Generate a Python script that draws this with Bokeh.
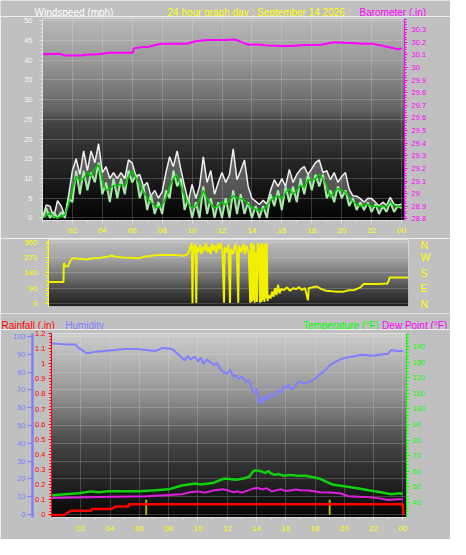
import numpy as np
from bokeh.plotting import figure
from bokeh.models import Range1d, LinearAxis, FixedTicker, Label, Grid
from bokeh.layouts import column
from bokeh.embed import file_html
from bokeh.resources import INLINE

FONT = "Liberation Sans"
BG = "#c0c0c0"

# ---------------- data ----------------
x_ticks = [2, 4, 6, 8, 10, 12, 14, 16, 18, 20, 22, 24]
x_tick_labels = ["02", "04", "06", "08", "10", "12", "14", "16", "18", "20", "22", "00"]

# wind (mph), quarter-hour readings
wind_hours = [0, 0.25, 0.5, 0.75, 1, 1.25, 1.5, 1.75,
              2, 2.25, 2.5, 2.75, 3, 3.25, 3.5, 3.75,
              4, 4.25, 4.5, 4.75, 5, 5.25, 5.5, 5.75,
              6, 6.25, 6.5, 6.75, 7, 7.25, 7.5, 7.75,
              8, 8.25, 8.5, 8.75, 9, 9.25, 9.5, 9.75,
              10, 10.25, 10.5, 10.75, 11, 11.25, 11.5, 11.75,
              12, 12.25, 12.5, 12.75, 13, 13.25, 13.5, 13.75,
              14, 14.25, 14.5, 14.75, 15, 15.25, 15.5, 15.75,
              16, 16.25, 16.5, 16.75, 17, 17.25, 17.5, 17.75,
              18, 18.25, 18.5, 18.75, 19, 19.25, 19.5, 19.75,
              20, 20.25, 20.5, 20.75, 21, 21.25, 21.5, 21.75,
              22, 22.25, 22.5, 22.75, 23, 23.25, 23.5, 23.75,
              24]
wind_gust = [0, 3.3, 3.0, 0, 4.4, 3.0, 0.5, 5.8,
             12, 15, 11, 17, 12, 17, 14, 18.8,
             11.5, 13, 10, 11.5, 10, 11.5, 10, 14.7,
             13.9, 10.5, 11, 8, 9, 5.6, 7, 5,
             6.6, 11.5, 15.5, 13, 17, 12.3, 8, 4.1,
             8.5, 5, 8, 15.5, 9, 12, 6, 9,
             11.5, 9, 11, 17.5, 9.7, 12, 14.7, 8,
             5, 4.2, 3.4, 4.5, 3.5, 7, 9.7, 8,
             10, 8, 12.3, 9, 11, 12.3, 13, 11,
             12.5, 14, 14.7, 11.5, 12, 9.7, 11.5, 9,
             10.5, 11.5, 7.3, 5.6, 5.5, 4.9, 4, 5,
             4.9, 4, 3, 4, 3.2, 5.2, 3.5, 3.2,
             3.5]
wind_speed = [0, 2.5, 0, 1.5, 0, 1.5, 0, 5,
              4, 12, 6, 12, 7, 11.5, 9, 14,
              6, 9, 4, 10, 5, 10, 6, 12,
              9, 11, 5, 8, 2, 6, 1, 4,
              1, 7, 5, 12, 8, 10, 2, 5,
              0, 4, 0, 8, 1, 5, 0, 4,
              0, 5, 0, 7, 1, 6, 1, 4,
              0, 3, 0, 3, 0, 6, 3, 7,
              2, 8, 4, 8, 4, 10, 6, 11,
              7, 11, 8, 11, 5, 7, 4, 8,
              5, 7, 3, 5, 2, 4, 2, 4,
              1.5, 3.5, 1, 3, 1.5, 4, 1.5, 3,
              2.5]
wind_avg = [0, 0.5, 1.3, 0.3, 0, 0.3, 0.8, 3.5,
            7.4, 10.6, 9.5, 10, 11.5, 10.6, 12.5, 13.5,
            9.7, 7.0, 7.5, 8.2, 8.2, 8.5, 8, 10.5,
            12, 10, 8.5, 6.6, 5, 4, 3, 2.6,
            3.3, 5, 8, 10, 11, 8, 5.5, 3.5,
            2.6, 3, 4.5, 7, 5, 3.5, 2.6, 3,
            4.1, 3.3, 4.5, 5.6, 5, 4.9, 4.5, 3.5,
            2.6, 2.2, 1.9, 2.2, 3, 4.5, 5.2, 5.6,
            4.8, 6.5, 7.3, 6, 7, 8.2, 7.8, 9.7,
            9.5, 10, 11, 10, 8.2, 5.2, 6.6, 7.4,
            7, 6.5, 5.2, 4.1, 3.5, 2.9, 3.2, 3.5,
            3, 2.9, 2.9, 2.9, 2.9, 4.1, 3.2, 2.9,
            2.9]
wind_ticks = [0, 5, 10, 15, 20, 25, 30, 35, 40, 45, 50]

# barometer (in)
baro_hours = [0, 1.1, 1.55, 2.6, 2.85, 3.7, 4.5, 6.05, 6.1, 6.7, 7.1, 7.6, 8.0,
              9.5, 9.7, 10.2, 11.0, 12.3, 12.75, 13.1, 13.4, 13.8, 14.4, 15.0,
              16.0, 16.6, 17.6, 18.6, 19.5, 20.2, 21.5, 22.1, 22.8, 23.4, 23.75, 24.0]
baro_values = [30.105, 30.108, 30.095, 30.095, 30.1, 30.105, 30.117, 30.117, 30.15,
               30.163, 30.163, 30.18, 30.187, 30.187, 30.19, 30.208, 30.217, 30.217,
               30.222, 30.213, 30.195, 30.18, 30.182, 30.175, 30.17, 30.17, 30.177,
               30.18, 30.2, 30.195, 30.187, 30.187, 30.17, 30.155, 30.145, 30.15]
baro_ticks = [28.8, 28.9, 29.0, 29.1, 29.2, 29.3, 29.4, 29.5, 29.6, 29.7, 29.8,
              29.9, 30.0, 30.1, 30.2, 30.3]
baro_tick_labels = ["28.8", "28.9", "29", "29.1", "29.2", "29.3", "29.4", "29.5",
                    "29.6", "29.7", "29.8", "29.9", "30", "30.1", "30.2", "30.3"]

# wind direction (degrees)
dir_hours = [0, 1.0, 1.02, 1.1, 1.3, 1.45, 1.6, 2.0, 2.5, 3.0, 3.5, 4.0, 4.2, 4.6,
             5.0, 5.5, 6.0, 6.5, 7.0, 7.5, 8.0, 8.5, 9.0, 9.3,
             9.45, 9.55, 9.6, 9.65, 9.75, 9.8, 9.85, 9.9, 10.0, 10.1,
             10.2, 10.3, 10.4, 10.5, 10.6, 10.7, 10.8, 10.9, 11.0, 11.1,
             11.2, 11.3, 11.4, 11.5, 11.6, 11.7, 11.75, 11.85, 12.0, 12.1,
             12.15, 12.3, 12.45, 12.55, 12.65, 12.7, 12.85, 13.0, 13.1, 13.2,
             13.35, 13.45, 13.5, 13.55, 13.6, 13.65, 13.7, 13.75, 13.8, 13.9,
             13.95, 14.05, 14.1, 14.15, 14.2, 14.25, 14.3, 14.35, 14.4, 14.45,
             14.5, 14.55, 14.6, 14.65, 14.8, 14.9, 15.0, 15.1, 15.2, 15.3,
             15.4, 15.5, 15.7, 15.9, 16.1, 16.3, 16.5, 16.7, 16.9, 17.1,
             17.3, 17.35, 17.6, 17.9, 18.2, 18.5, 18.9, 19.3, 19.7, 20.0,
             20.4, 20.8, 21.0, 21.5, 22.0, 22.6, 22.75, 24.0]
dir_values = [127, 127, 238, 218, 218, 250, 266, 262, 258, 265, 268, 275, 281, 272,
              270, 268, 266, 276, 282, 286, 284, 285, 280, 290,
              330, 355, 2, 340, 300, 350, 3, 330, 300, 345,
              290, 330, 310, 355, 300, 330, 290, 350, 310, 340,
              295, 350, 320, 355, 300, 5, 330, 300, 345, 3,
              320, 290, 350, 310, 5, 340, 300, 350, 290, 340,
              300, 5, 355, 10, 350, 20, 345, 5, 300, 10,
              355, 310, 5, 350, 10, 355, 20, 340, 10, 350,
              30, 355, 15, 50, 30, 70, 40, 90, 50, 110,
              60, 85, 80, 95, 75, 90, 85, 95, 80, 90,
              20, 90, 95, 100, 85, 75, 72, 70, 70, 78,
              80, 95, 114, 114, 114, 118, 152, 152]
dir_ticks = [0, 90, 180, 270, 360]
dir_compass = ["N", "E", "S", "W", "N"]

# rainfall (in), cumulative
rain_hours = [0, 0.86, 1.3, 2.73, 2.75, 4.05, 4.37, 5.26, 5.28, 24.0, 24.05]
rain_values = [0, 0, 0.028, 0.028, 0.039, 0.039, 0.055, 0.055, 0.07, 0.07, 0]
rain_mark_hours = [6.47, 19.0]
rain_mark_values = [0.1, 0.1]
rain_ticks = [0, 0.1, 0.2, 0.3, 0.4, 0.5, 0.6, 0.7, 0.8, 0.9, 1.0, 1.1, 1.2]
rain_tick_labels = ["0", "0.1", "0.2", "0.3", "0.4", "0.5", "0.6", "0.7", "0.8",
                    "0.9", "1", "1.1", "1.2"]

# humidity (%)
hum_hours = [0, 1.0, 1.65, 1.85, 2.4, 3.0, 3.6, 5.0, 5.8, 7.1,
             7.6, 8.25, 8.9, 9.1, 9.3, 9.5, 9.8, 10.0, 10.2, 10.4,
             10.6, 10.9, 11.1, 11.3, 11.5, 11.75, 12.0, 12.2, 12.4, 12.6,
             12.8, 13.0, 13.3, 13.5, 13.7, 13.9, 14.0, 14.1, 14.25, 14.4,
             14.5, 14.65, 14.8, 15.0, 15.25, 15.45, 15.65, 15.85, 16.0, 16.2,
             16.4, 16.6, 16.8, 17.0, 17.3, 17.6, 17.9, 18.1, 18.35, 18.7,
             19.0, 19.35, 19.7, 20.1, 20.5, 21.2, 22.0, 22.5, 23.0, 23.2,
             23.6, 24.0]
hum_values = [96, 95.5, 95.5, 93.5, 90.5, 91.3, 91.8, 92.9, 92.9, 91.8,
              93.5, 92.9, 88, 86.5, 89, 87, 88.6, 86, 88, 84.5,
              87, 85.3, 84, 85, 82, 80, 79, 81.5, 77.5, 78,
              76, 77.5, 74.5, 75.5, 70, 68, 71, 64.5, 62, 66,
              63, 67, 64.5, 68, 66, 70, 68, 72, 71, 73,
              70.1, 71.5, 74, 74.5, 73.5, 74.5, 75.5, 77, 78.8, 81,
              83.7, 85.5, 87, 88, 88.6, 89.7, 89.1, 89.8, 90.2, 92.4,
              91.8, 91.8]
hum_ticks = [0, 10, 20, 30, 40, 50, 60, 70, 80, 90, 100]

# temperature and dew point (F)
temp_hours = [0, 1.85, 2.7, 3.2, 3.8, 6.0, 7.1, 8.0, 8.9, 9.8,
              10.2, 11.1, 11.75, 12.0, 12.6, 13.2, 13.5, 13.8, 14.0, 14.25,
              14.6, 14.8, 15.0, 15.25, 15.5, 15.9, 16.3, 16.8, 17.4, 18.35,
              19.2, 20.1, 21.0, 21.65, 22.5, 23.2, 23.8, 24.0]
temp_values = [44.5, 45.8, 47.0, 46.4, 47.0, 47.0, 47.7, 48.3, 50.8, 52.0,
               51.4, 52.6, 55.1, 55.1, 54.5, 55.5, 56.4, 60.1, 60.5, 60.1,
               58.9, 60.1, 58.5, 57.6, 58.2, 57.0, 57.6, 57.0, 57.0, 55.1,
               51.4, 50.1, 48.9, 47.7, 46.4, 45.2, 45.8, 45.2]
dew_hours = [0, 3.2, 6.5, 8.9, 9.5, 10.0, 10.5, 11.0, 11.75, 12.0,
             12.4, 12.7, 13.0, 13.4, 13.8, 14.1, 14.4, 14.7, 15.05, 15.4,
             15.7, 16.0, 16.4, 16.7, 17.0, 17.6, 18.35, 19.0, 19.7, 20.3,
             21.0, 21.65, 22.4, 23.0, 23.6, 24.0]
dew_values = [42.7, 43.3, 43.9, 45.2, 46.5, 47.0, 46.2, 47.5, 48.3, 47.7,
              46.5, 47.0, 46.2, 47.5, 48.9, 49.2, 48.3, 49.0, 47.0, 47.8,
              48.3, 47.2, 47.7, 48.2, 47.7, 47.5, 46.4, 46.2, 45.8, 43.9,
              43.6, 43.3, 42.5, 41.4, 42.0, 42.0]
temp_ticks = [40, 50, 60, 70, 80, 90, 100, 110, 120, 130, 140]

# title rows
top_titles = ["Windspeed (mph)", "24 hour graph day : September 14 2026", "Barometer (.in)"]
top_title_colors = ["#ffffff", "#ffff00", "#ff00ff"]
bottom_titles = ["Rainfall (.in)", "Humidity", "Temperature (°F)", "Dew Point (°F)"]
bottom_title_colors = ["#ff0000", "#8080ff", "#00ff00", "#ff00ff"]


# ---------------- helpers ----------------
def grey_gradient(stops_t, stops_v, n=240):
    t = np.linspace(1.0, 0.0, n)  # row 0 = bottom of frame
    v = np.interp(t, stops_t, stops_v).astype(np.uint8)
    img = np.zeros((n, 1), dtype=np.uint32)
    view = img.view(dtype=np.uint8).reshape((n, 1, 4))
    view[:, 0, 0] = v
    view[:, 0, 1] = v
    view[:, 0, 2] = v
    view[:, 0, 3] = 255
    return img


def add_background(p, stops_t, stops_v):
    xr, yr = p.x_range, p.y_range
    p.image_rgba(image=[grey_gradient(stops_t, stops_v)], x=xr.start, y=yr.start,
                 dw=xr.end - xr.start, dh=yr.end - yr.start, level="image")


def make_fig(height, x_range, y_range, left, right, top, bottom, **kw):
    return figure(width=450, height=height, x_range=x_range, y_range=y_range,
                  output_backend="svg", toolbar_location=None, frame_align=False,
                  min_border_left=left, min_border_right=right,
                  min_border_top=top, min_border_bottom=bottom,
                  border_fill_color=BG, background_fill_color="#000000",
                  outline_line_color="#e6e6e6", outline_line_width=1, **kw)


def title_row(height, texts, colors, xs, baseline):
    t = figure(width=450, height=height, x_range=Range1d(0, 450), y_range=Range1d(height, 0),
               output_backend="svg", toolbar_location=None, frame_align=False,
               min_border=0, min_border_left=0, min_border_right=0,
               min_border_top=0, min_border_bottom=0,
               x_axis_location=None, y_axis_location=None,
               background_fill_color=BG, border_fill_color=BG, outline_line_color=None)
    t.grid.visible = False
    for text, color, x in zip(texts, colors, xs):
        t.add_layout(Label(x=x, y=baseline, text=text, text_color=color, text_font=FONT,
                           text_font_size="10px", text_baseline="alphabetic"))
    return t


def style_axis(ax, color, size="7.5px", line_color=None, tick_out=3, minor_out=2,
               standoff=3, line_width=1):
    lc = line_color or color
    ax.major_label_text_color = color
    ax.major_label_text_font = FONT
    ax.major_label_text_font_size = size
    ax.axis_line_color = lc
    ax.axis_line_width = line_width
    ax.major_tick_line_color = lc
    ax.minor_tick_line_color = lc
    ax.major_tick_in = 0
    ax.major_tick_out = tick_out
    ax.minor_tick_in = 0
    ax.minor_tick_out = minor_out
    ax.major_label_standoff = standoff


def style_grid(g):
    g.grid_line_color = "#f2f2f2"
    g.grid_line_alpha = 0.4
    g.grid_line_dash = "1 1"


hour_minor = list(range(0, 25))

# ---------------- title row 1 ----------------
t1 = title_row(16, top_titles, top_title_colors, [34, 167, 359], 11.5)

# ---------------- top: wind + barometer ----------------
p1 = make_fig(222, Range1d(0, 24.2), Range1d(-0.65, 50.55), 42, 46, 2, 18)
p1.extra_y_ranges = {"baro": Range1d(28.787, 30.388)}
add_background(p1, [0, 0.2, 0.45, 0.52, 0.7, 0.9, 1.0], [185, 155, 100, 68, 40, 15, 4])

p1.xaxis.ticker = FixedTicker(ticks=x_ticks, minor_ticks=hour_minor)
p1.xaxis.major_label_overrides = dict(zip(x_ticks, x_tick_labels))
style_axis(p1.xaxis[0], "#ffff00", size="8px", line_color="#e0e0e0", standoff=4)
p1.yaxis.ticker = FixedTicker(ticks=wind_ticks, minor_ticks=list(range(0, 51)))
style_axis(p1.yaxis[0], "#f4f4f4", line_color="#e0e0e0", standoff=7)
baro_axis = LinearAxis(y_range_name="baro",
                       ticker=FixedTicker(ticks=baro_ticks,
                                          minor_ticks=[28.8 + 0.02 * i for i in range(80)]),
                       major_label_overrides=dict(zip(baro_ticks, baro_tick_labels)))
style_axis(baro_axis, "#ff00ff", standoff=4)
p1.add_layout(baro_axis, "right")
style_grid(p1.xgrid[0])
style_grid(p1.ygrid[0])

p1.varea(x=wind_hours, y1=wind_avg, y2=wind_gust, fill_color="#e8e8e8", fill_alpha=0.3)
p1.line(wind_hours, wind_gust, line_color="#f0f0f0", line_width=1.5)
p1.varea(x=wind_hours, y1=wind_speed, y2=wind_avg, fill_color="#b0f0b0", fill_alpha=0.3)
p1.line(wind_hours, wind_speed, line_color="#a8e8a8", line_width=2)
p1.line(wind_hours, wind_avg, line_color="#00c800", line_width=1.5)
p1.line(baro_hours, baro_values, line_color="#ff00ff", line_width=2, y_range_name="baro")

# ---------------- middle: wind direction ----------------
p2 = make_fig(75, Range1d(0, 24), Range1d(-17, 375), 48, 42, 1, 7, x_axis_location=None)
p2.xgrid.visible = False
add_background(p2, [0, 0.3, 0.55, 0.78, 1.0], [192, 160, 115, 65, 30])
p2.yaxis.ticker = FixedTicker(ticks=dir_ticks, minor_ticks=list(range(0, 361, 15)))
style_axis(p2.yaxis[0], "#ffff00", size="8px", standoff=8)
compass = LinearAxis(ticker=FixedTicker(ticks=dir_ticks, minor_ticks=[]),
                     major_label_overrides=dict(zip(dir_ticks, dir_compass)))
style_axis(compass, "#ffff00", size="10.5px", tick_out=0, minor_out=0, standoff=12)
compass.axis_line_color = None
compass.major_tick_line_color = None
p2.add_layout(compass, "right")
style_grid(p2.ygrid[0])
p2.line(dir_hours, dir_values, line_color="#f0f000", line_width=2)

# ---------------- title row 2 ----------------
t3 = title_row(16, bottom_titles, bottom_title_colors, [1, 64.7, 302.4, 381.6], 11.5)

# ---------------- bottom: rain / humidity / temperature ----------------
p3 = make_fig(210, Range1d(0, 24.25), Range1d(-0.017, 1.2), 51, 44, 4, 22)
p3.extra_y_ranges = {"hum": Range1d(-1.6, 101.6), "temp": Range1d(30.2, 148.5)}
add_background(p3, [0, 0.16, 0.32, 0.45, 0.53, 0.63, 0.79, 0.92, 1.0],
               [205, 178, 150, 115, 90, 65, 40, 18, 8])

p3.xaxis.ticker = FixedTicker(ticks=x_ticks, minor_ticks=hour_minor)
p3.xaxis.major_label_overrides = dict(zip(x_ticks, x_tick_labels))
style_axis(p3.xaxis[0], "#ffff00", size="8px", line_color="#e0e0e0", standoff=5)
p3.yaxis.ticker = FixedTicker(ticks=rain_ticks, minor_ticks=[0.02 * i for i in range(61)])
p3.yaxis.major_label_overrides = dict(zip(rain_ticks, rain_tick_labels))
style_axis(p3.yaxis[0], "#ff0000", standoff=3)
hum_axis = LinearAxis(y_range_name="hum", ticker=FixedTicker(ticks=hum_ticks, minor_ticks=[]))
style_axis(hum_axis, "#8080ff", tick_out=5, standoff=2, line_width=2.5)
p3.add_layout(hum_axis, "left")
temp_axis = LinearAxis(y_range_name="temp",
                       ticker=FixedTicker(ticks=temp_ticks,
                                          minor_ticks=[30 + 2 * i for i in range(60)]))
style_axis(temp_axis, "#00ff00", standoff=3)
p3.add_layout(temp_axis, "right")
p3.ygrid.visible = False
hum_grid = Grid(dimension=1, ticker=FixedTicker(ticks=hum_ticks), y_range_name="hum")
style_grid(hum_grid)
p3.add_layout(hum_grid)
style_grid(p3.xgrid[0])

p3.line(hum_hours, hum_values, line_color="#8080ff", line_width=2, y_range_name="hum")
p3.line(temp_hours, temp_values, line_color="#10d010", line_width=2.5, y_range_name="temp")
p3.line(dew_hours, dew_values, line_color="#e020e0", line_width=2, y_range_name="temp")
p3.vbar(x=rain_mark_hours, top=rain_mark_values, bottom=0, width=0.13,
        fill_color="#b8b800", line_color=None)
p3.line(rain_hours, rain_values, line_color="#ff0000", line_width=2.5)

layout = column(t1, p1, p2, t3, p3)
open("out.html", "w").write(file_html(layout, INLINE))
